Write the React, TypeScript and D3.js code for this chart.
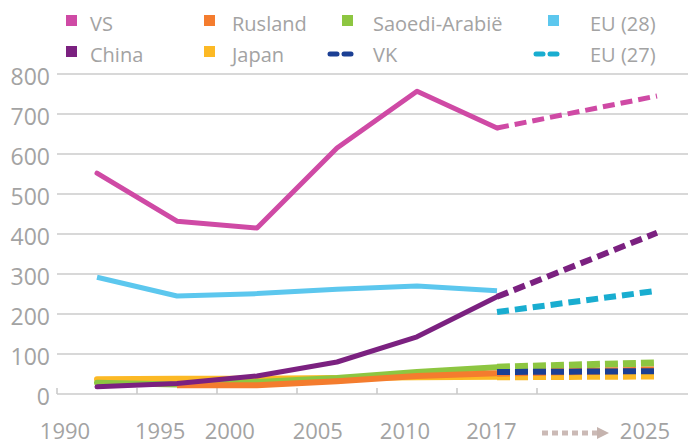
import React from "react";
import * as d3 from "d3";

// years on the axis and the projection year
const years = ["1990", "1995", "2000", "2005", "2010", "2017"];
const projYear = "2025";
const yTicks = [0, 100, 200, 300, 400, 500, 600, 700, 800];

// historic values (solid lines)
const vs = [552, 432, 415, 615, 757, 665];
const china = [18, 26, 45, 80, 143, 243];
const eu28 = [292, 245, 251, 262, 270, 258];
const japan = [37, 38, 38, 40, 42, 43];
const saudi = [28, 24, 30, 40, 55, 67];
const rusland = [null, 22, 22, 32, 45, 52];

// projections 2017 -> 2025 (dashed lines)
const vsProj = [665, 745];
const chinaProj = [243, 403];
const eu27Proj = [205, 258];
const saudiProj = [67, 78];
const ruslandProj = [52, 60];
const japanProj = [43, 45];
const vkProj = [55, 57];

const C = {
  vs: "#cf4aa5",
  china: "#7b2180",
  rusland: "#f47c2e",
  japan: "#fcb925",
  saudi: "#8dc641",
  eu28: "#5cc7ee",
  vk: "#1b3f94",
  eu27: "#19add0",
};

const legend = [
  { name: "VS", color: C.vs, dash: false, col: 0, row: 0 },
  { name: "China", color: C.china, dash: false, col: 0, row: 1 },
  { name: "Rusland", color: C.rusland, dash: false, col: 1, row: 0 },
  { name: "Japan", color: C.japan, dash: false, col: 1, row: 1 },
  { name: "Saoedi-Arabië", color: C.saudi, dash: false, col: 2, row: 0 },
  { name: "VK", color: C.vk, dash: true, col: 2, row: 1 },
  { name: "EU (28)", color: C.eu28, dash: false, col: 3, row: 0 },
  { name: "EU (27)", color: C.eu27, dash: true, col: 3, row: 1 },
];

const width = 688;
const height = 445;
const font = "'Open Sans', sans-serif";
const textColor = "#a3a3a3";

// hand placed year labels in the original (axis units)
const labelNudge = [-0.4, -0.21, -0.34, -0.24, -0.15, -0.07];

const x = d3.scaleLinear().domain([0, 7.5]).range([57, 657]);
const y = d3.scaleLinear().domain([0, 800]).range([394, 74]);

const px = (i: number) => x(i + 0.5);
const projX = [px(years.length - 1), x(7.5)];

const line = d3
  .line<number | null>()
  .defined((d) => d != null)
  .x((_, i) => px(i))
  .y((d) => y(d as number));

const projLine = d3
  .line<number>()
  .x((_, i) => projX[i])
  .y((d) => y(d));

const legendColX = [66, 204, 342, 548];
const legendTextX = [90, 232, 373, 590];
const legendRowY = [31, 62];

export default function App() {
  return (
    <svg
      width={width}
      height={height}
      style={{ position: "absolute", left: 0, top: 0, background: "#fff" }}
      fontFamily={font}
    >
      {/* gridlines */}
      {yTicks.map((t) => (
        <line
          key={t}
          x1={57}
          x2={width}
          y1={y(t)}
          y2={y(t)}
          stroke="#cbcbcb"
          strokeWidth={1.6}
        />
      ))}
      {/* x ticks */}
      {d3.range(0, 7).map((i) => (
        <line
          key={i}
          x1={x(i)}
          x2={x(i)}
          y1={y(0)}
          y2={y(0) - 6}
          stroke="#cbcbcb"
          strokeWidth={1.6}
        />
      ))}
      {/* y labels */}
      {yTicks.map((t) => (
        <text
          key={t}
          x={50}
          y={y(t) + 11}
          textAnchor="end"
          fontSize={23}
          fill={textColor}
        >
          {t}
        </text>
      ))}
      {/* x labels */}
      {years.map((yr, i) => (
        <text
          key={yr}
          x={px(i) + labelNudge[i] * 80}
          y={439}
          textAnchor="middle"
          fontSize={22}
          fill={textColor}
        >
          {yr}
        </text>
      ))}
      <text x={x(7.35)} y={439} textAnchor="middle" fontSize={22} fill={textColor}>
        {projYear}
      </text>
      {/* arrow */}
      <line
        x1={542}
        x2={598}
        y1={433}
        y2={433}
        stroke="#cbbab6"
        strokeWidth={5}
        strokeDasharray="6 4"
      />
      <path d="M597,427 L609,433 L597,439 Z" fill="#c5b3ae" />

      {/* solid lines */}
      <path d={line(eu28) || ""} fill="none" stroke={C.eu28} strokeWidth={5} strokeLinejoin="round" />
      <path d={line(vs) || ""} fill="none" stroke={C.vs} strokeWidth={5} strokeLinejoin="round" strokeLinecap="round" />
      <path d={line(japan) || ""} fill="none" stroke={C.japan} strokeWidth={6} strokeLinecap="round" />
      <path d={line(saudi) || ""} fill="none" stroke={C.saudi} strokeWidth={6} strokeLinecap="round" />
      <path d={line(rusland) || ""} fill="none" stroke={C.rusland} strokeWidth={6} />
      <path d={line(china) || ""} fill="none" stroke={C.china} strokeWidth={5} strokeLinejoin="round" strokeLinecap="round" />

      {/* projections */}
      <path d={projLine(vsProj) || ""} fill="none" stroke={C.vs} strokeWidth={5} strokeDasharray="12 6" />
      <path d={projLine(chinaProj) || ""} fill="none" stroke={C.china} strokeWidth={6} strokeDasharray="12 6" />
      <path d={projLine(eu27Proj) || ""} fill="none" stroke={C.eu27} strokeWidth={6} strokeDasharray="12 6" />
      <path d={projLine(saudiProj) || ""} fill="none" stroke={C.saudi} strokeWidth={7} strokeDasharray="13 5" />
      <path d={projLine(japanProj) || ""} fill="none" stroke={C.japan} strokeWidth={7} strokeDasharray="13 5" />
      <path d={projLine(ruslandProj) || ""} fill="none" stroke={C.rusland} strokeWidth={7} strokeDasharray="13 5" />
      <path d={projLine(vkProj) || ""} fill="none" stroke={C.vk} strokeWidth={6} strokeDasharray="13 5" />

      {/* legend */}
      {legend.map((l) => {
        const by = legendRowY[l.row];
        const sx = legendColX[l.col];
        return (
          <g key={l.name}>
            {l.dash ? (
              <g stroke={l.color} strokeWidth={5} strokeLinecap="round">
                <line x1={sx - 12} x2={sx - 5} y1={by - 8} y2={by - 8} />
                <line x1={sx + 2} x2={sx + 9} y1={by - 8} y2={by - 8} />
              </g>
            ) : (
              <rect x={sx} y={by - 16} width={11} height={11} fill={l.color} />
            )}
            <text x={legendTextX[l.col]} y={by} fontSize={20} fill={textColor}>
              {l.name}
            </text>
          </g>
        );
      })}
    </svg>
  );
}
